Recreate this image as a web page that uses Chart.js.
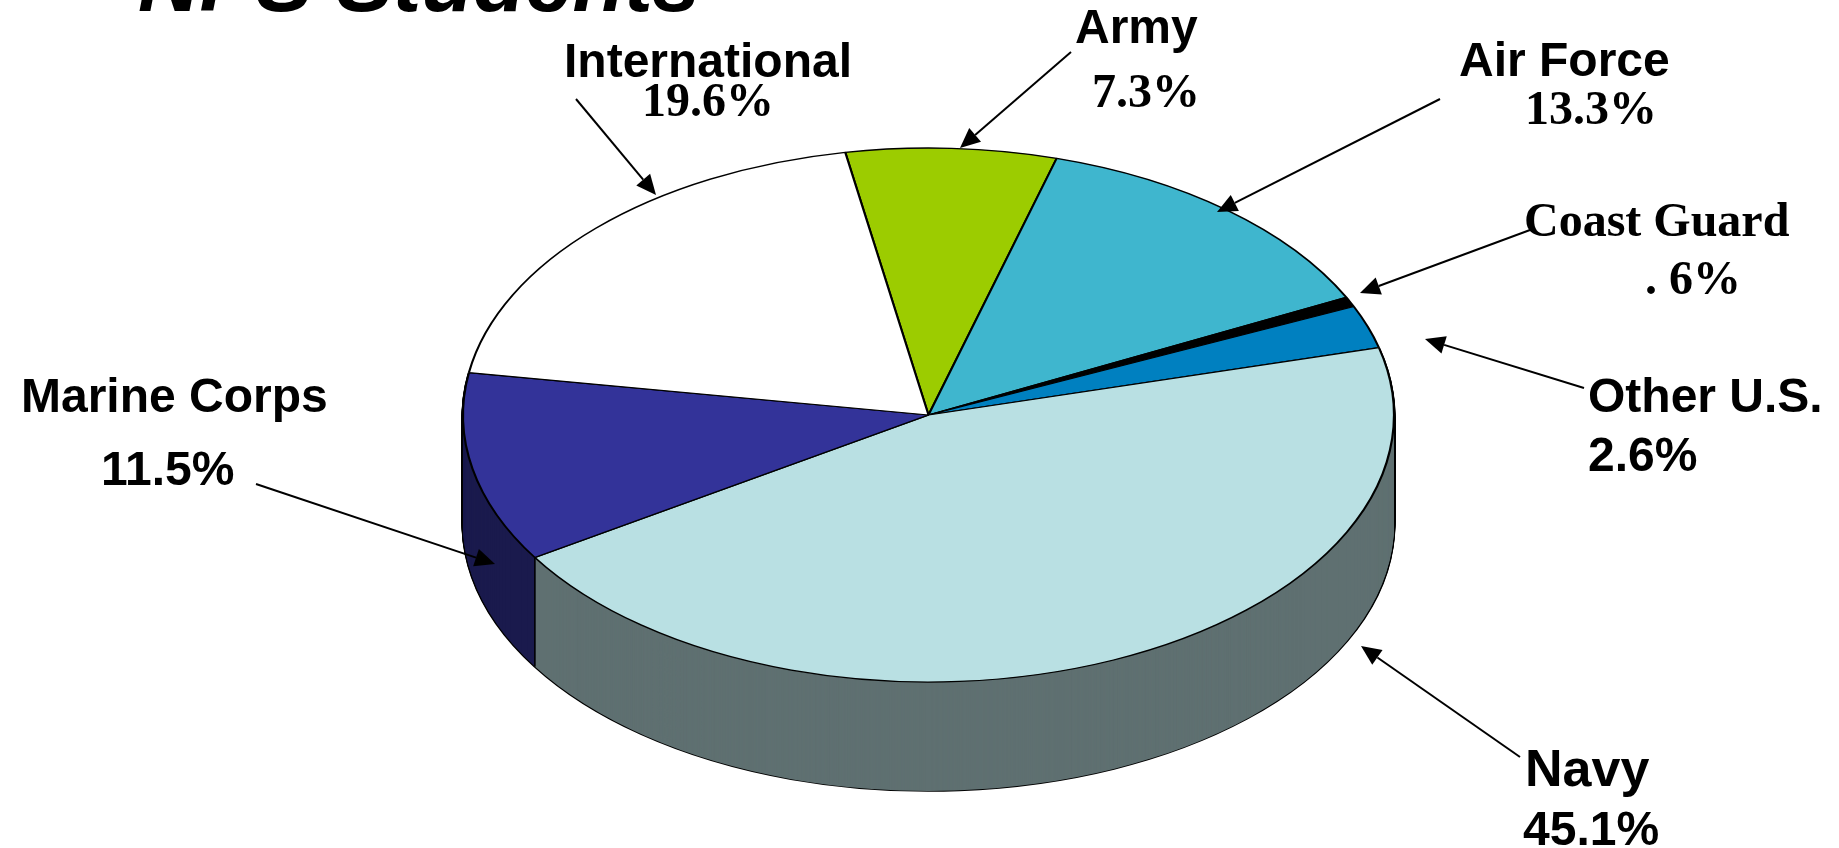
<!DOCTYPE html>
<html>
<head>
<meta charset="utf-8">
<title>NPS Students</title>
<script src="https://cdn.jsdelivr.net/npm/chart.js@4"></script>
<style>
  html, body { margin: 0; padding: 0; background: #fff; overflow: hidden; }
  canvas { display: block; }
</style>
</head>
<body>
<canvas id="grafica" width="1839" height="848"></canvas>
<script>
// data
const categories = ['Army', 'Air Force', 'Coast Guard', 'Other U.S.', 'Navy', 'Marine Corps', 'International'];
const values = [7.3, 13.3, 0.6, 2.6, 45.1, 11.5, 19.6];
const valueLabels = ['7.3%', '13.3%', '. 6%', '2.6%', '45.1%', '11.5%', '19.6%'];
const titleText = 'NPS Students';

// styles
const topColors = ['#9ccc00', '#3fb6ce', '#000000', '#0080c0', '#b9e0e3', '#333399', '#ffffff'];
const wallColors = [null, null, null, null, '#5f7071', '#1a1a4d', null];

// pie is drawn flat by Chart.js, then squashed into this ellipse
const pieX = 928.5, pieY = 415, pieRx = 465.5, pieRy = 267, pieDepth = 109;

// text positions: [x, baseline], name then value
const SANS = 'bold 48px "Liberation Sans"';
const SERIF = 'bold 48px "Liberation Serif"';
const NAVY = 'bold 52px "Liberation Sans"';
const namePos = [[1075, 43], [1459, 76], [1524, 236], [1588, 412], [1525, 786], [21, 412], [564, 77]];
const valuePos = [[1092, 107], [1525, 124], [1645, 294], [1588, 471], [1523, 845], [101, 485], [642, 116]];
const nameFonts = [SANS, SANS, SERIF, SANS, NAVY, SANS, SANS];
const valueFonts = [SERIF, SERIF, SERIF, SANS, SANS, SANS, SERIF];

// arrows: tail x, tail y, head x, head y
const arrows = [
  [1071, 52, 960, 148],
  [1440, 99, 1217, 212],
  [1530, 230, 1360, 293],
  [1584, 388, 1425, 339],
  [1520, 757, 1361, 646],
  [256, 484, 495, 564],
  [576, 99, 656, 195]
];

function squash(ctx, arc) {
  ctx.translate(pieX, pieY);
  ctx.scale(pieRx / arc.outerRadius, pieRy / arc.outerRadius);
  ctx.translate(-arc.x, -arc.y);
}

function drawArrow(ctx, a) {
  const ang = Math.atan2(a[3] - a[1], a[2] - a[0]);
  const len = 20, half = 9;
  const bx = a[2] - len * Math.cos(ang), by = a[3] - len * Math.sin(ang);
  ctx.strokeStyle = '#000';
  ctx.lineWidth = 2;
  ctx.beginPath();
  ctx.moveTo(a[0], a[1]);
  ctx.lineTo(bx, by);
  ctx.stroke();
  ctx.fillStyle = '#000';
  ctx.beginPath();
  ctx.moveTo(a[2], a[3]);
  ctx.lineTo(bx - half * Math.sin(ang), by + half * Math.cos(ang));
  ctx.lineTo(bx + half * Math.sin(ang), by - half * Math.cos(ang));
  ctx.closePath();
  ctx.fill();
}

const pie3d = {
  id: 'pie3d',
  beforeDatasetsDraw(chart) {
    const ctx = chart.ctx;
    const arcs = chart.getDatasetMeta(0).data;
    const sy = pieRy / arcs[0].outerRadius;
    ctx.save();
    squash(ctx, arcs[0]);

    // side wall: marine first, navy over it
    const walls = arcs.map((arc, i) => i).filter(i => wallColors[i]).reverse();
    function copy(i, d, over) {
      const o = arcs[i].options;
      arcs[i].options = Object.assign(Object.create(o), over);
      ctx.save();
      ctx.translate(0, d / sy);
      arcs[i].draw(ctx);
      ctx.restore();
      arcs[i].options = o;
    }
    walls.forEach(i => {
      for (let d = pieDepth; d >= 1; d--) {
        copy(i, d, { backgroundColor: 'rgba(0,0,0,0)', borderColor: '#000', borderWidth: 2.6 });
      }
    });
    walls.forEach(i => {
      for (let d = pieDepth; d >= 1; d--) {
        copy(i, d, { backgroundColor: wallColors[i], borderWidth: 0 });
      }
    });
    ctx.restore();

    // edge between the two walls
    const m = arcs[5], k = pieRx / m.outerRadius;
    const ex = pieX + k * m.outerRadius * Math.cos(m.startAngle);
    const ey = pieY + sy * m.outerRadius * Math.sin(m.startAngle);
    ctx.strokeStyle = '#000';
    ctx.lineWidth = 1.5;
    ctx.beginPath();
    ctx.moveTo(ex, ey);
    ctx.lineTo(ex, ey + pieDepth);
    ctx.stroke();

    ctx.save();
    squash(ctx, arcs[0]);
  },
  afterDatasetsDraw(chart) {
    chart.ctx.restore();
  },
  afterDraw(chart) {
    const ctx = chart.ctx;
    ctx.save();
    ctx.textAlign = 'left';
    ctx.textBaseline = 'alphabetic';
    ctx.fillStyle = '#000';
    ctx.font = 'italic bold 85px "Liberation Sans"';
    ctx.fillText(titleText, 138, 11);
    categories.forEach((name, i) => {
      ctx.font = nameFonts[i];
      ctx.fillText(name, namePos[i][0], namePos[i][1]);
      ctx.font = valueFonts[i];
      ctx.fillText(valueLabels[i], valuePos[i][0], valuePos[i][1]);
    });
    arrows.forEach(a => drawArrow(ctx, a));
    ctx.restore();
  }
};

new Chart(document.getElementById('grafica'), {
  type: 'pie',
  data: {
    labels: categories,
    datasets: [{
      data: values,
      backgroundColor: topColors,
      borderColor: '#000',
      borderWidth: 2,
      clip: false
    }]
  },
  options: {
    responsive: false,
    animation: false,
    rotation: -10.3,
    layout: { padding: 0 },
    plugins: {
      legend: { display: false },
      tooltip: { enabled: false }
    }
  },
  plugins: [pie3d]
});
</script>
</body>
</html>
